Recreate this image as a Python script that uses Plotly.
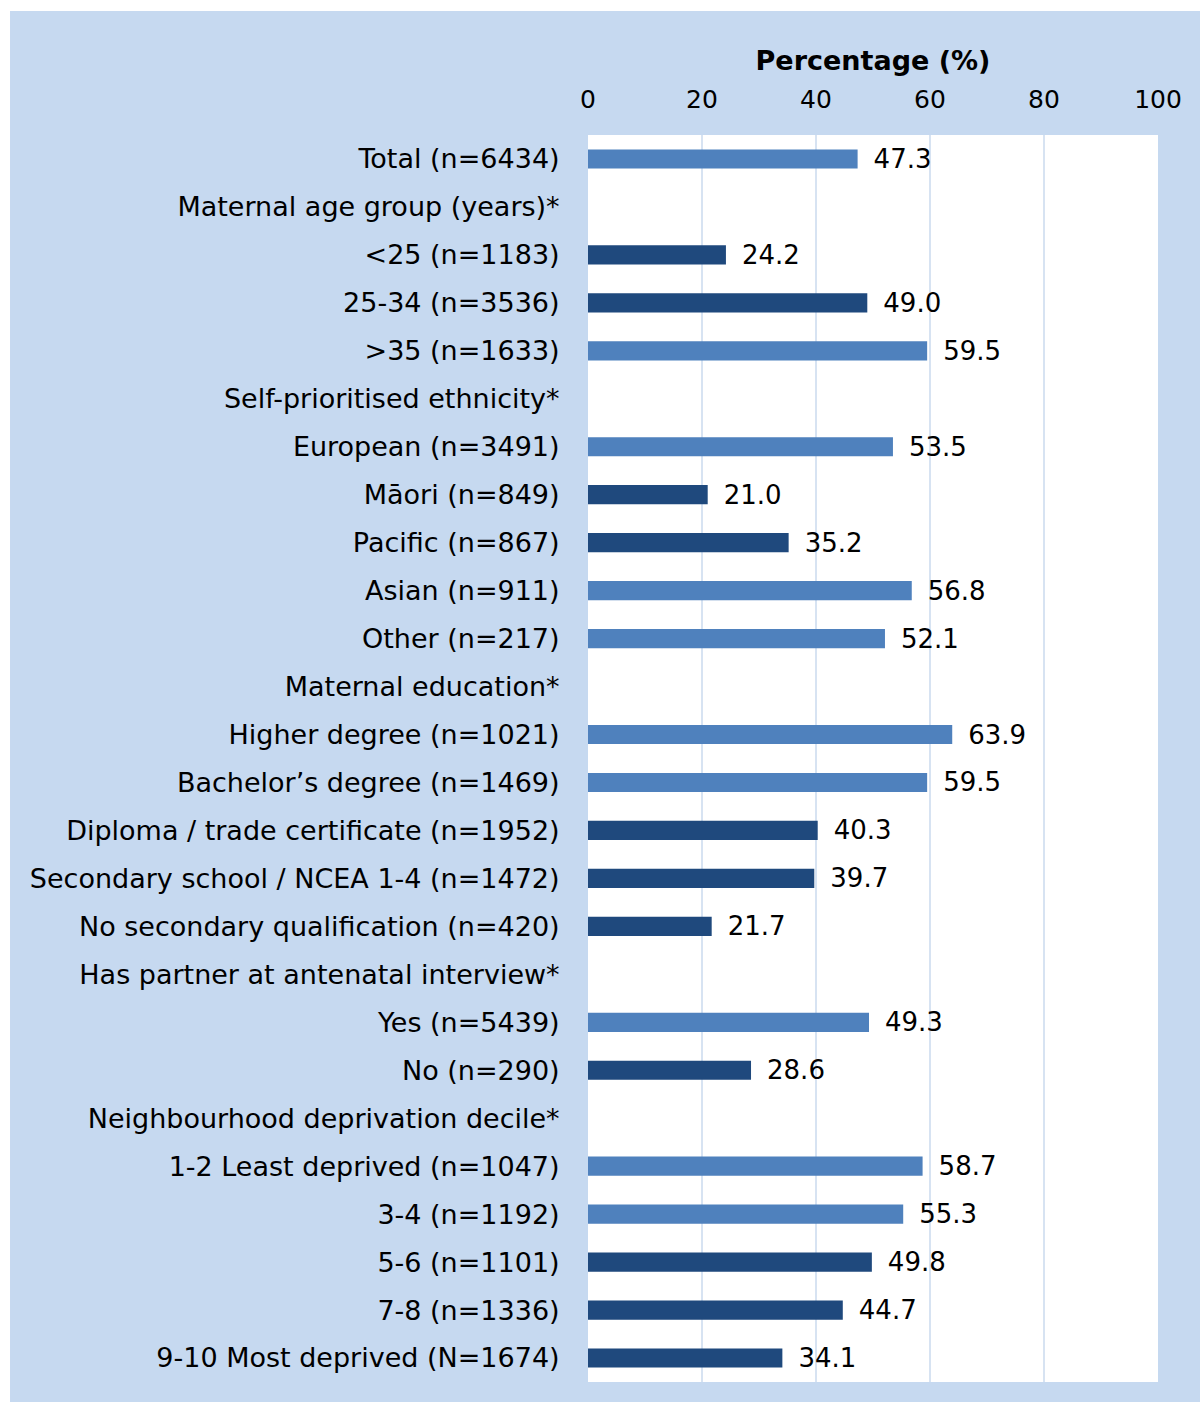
import plotly.graph_objects as go

# categories top to bottom; headings carry no value
categories = [
    "Total (n=6434)",
    "Maternal age group (years)*",
    "<25 (n=1183)",
    "25-34 (n=3536)",
    ">35 (n=1633)",
    "Self-prioritised ethnicity*",
    "European (n=3491)",
    "Māori (n=849)",
    "Pacific (n=867)",
    "Asian (n=911)",
    "Other (n=217)",
    "Maternal education*",
    "Higher degree (n=1021)",
    "Bachelor’s degree (n=1469)",
    "Diploma / trade certificate (n=1952)",
    "Secondary school / NCEA 1-4 (n=1472)",
    "No secondary qualification (n=420)",
    "Has partner at antenatal interview*",
    "Yes (n=5439)",
    "No (n=290)",
    "Neighbourhood deprivation decile*",
    "1-2 Least deprived (n=1047)",
    "3-4 (n=1192)",
    "5-6 (n=1101)",
    "7-8 (n=1336)",
    "9-10 Most deprived (N=1674)",
]
percent = [
    47.3, None, 24.2, 49.0, 59.5, None, 53.5, 21.0, 35.2, 56.8, 52.1, None,
    63.9, 59.5, 40.3, 39.7, 21.7, None, 49.3, 28.6, None, 58.7, 55.3, 49.8,
    44.7, 34.1,
]
shade = [
    "light", None, "dark", "dark", "light", None, "light", "dark", "dark",
    "light", "light", None, "light", "light", "dark", "dark", "dark", None,
    "light", "dark", None, "light", "light", "dark", "dark", "dark",
]
x_ticks = [0, 20, 40, 60, 80, 100]

BG = "#c6d9f0"
COLORS = {"light": "#4f81bd", "dark": "#1f497d", None: "#4f81bd"}
FONT = "DejaVu Sans"

fig = go.Figure()
fig.add_trace(
    go.Bar(
        x=percent,
        y=categories,
        orientation="h",
        marker=dict(color=[COLORS[s] for s in shade], line=dict(width=0)),
        width=0.40,
        text=[("\u2002" + f"{v:.1f}") if v is not None else "" for v in percent],
        textposition="outside",
        constraintext="none",
        cliponaxis=False,
        textfont=dict(family=FONT, size=26, color="black"),
        hoverinfo="x+y",
    )
)

# figure background (blue frame) and white plot area
fig.update_layout(
    shapes=[
        dict(type="rect", xref="paper", yref="paper", x0=-1.014, x1=1.08,
             y0=-0.03, y1=1.0994, fillcolor=BG, line=dict(width=0), layer="below"),
        dict(type="rect", xref="paper", yref="paper", x0=0, x1=1, y0=0, y1=1,
             fillcolor="white", line=dict(width=0), layer="below"),
    ]
)

fig.update_xaxes(
    side="top",
    range=[0, 100],
    tickvals=x_ticks,
    showgrid=True,
    gridcolor="#d7e3f2",
    gridwidth=2,
    zeroline=False,
    showline=False,
    ticks="outside",
    ticklen=16,
    tickcolor="rgba(0,0,0,0)",
    tickfont=dict(family=FONT, size=25, color="black"),
    title=dict(text="<b>Percentage (%)</b>", font=dict(family=FONT, size=27, color="black"),
               standoff=6),
    fixedrange=True,
)
fig.update_yaxes(
    autorange="reversed",
    showgrid=False,
    zeroline=False,
    showline=False,
    ticks="outside",
    ticklen=22,
    tickcolor="rgba(0,0,0,0)",
    tickfont=dict(family=FONT, size=27, color="black"),
    fixedrange=True,
)

fig.update_layout(
    width=1200,
    height=1402,
    margin=dict(l=588, r=42, t=135, b=20),
    paper_bgcolor="white",
    plot_bgcolor="rgba(0,0,0,0)",
    showlegend=False,
    bargap=0.6,
)

# drop the browser's default 8px body margin so the figure fills the window
fig.write_html(
    "out.html",
    config={"displayModeBar": False},
    post_script="document.body.style.margin='0';",
)
